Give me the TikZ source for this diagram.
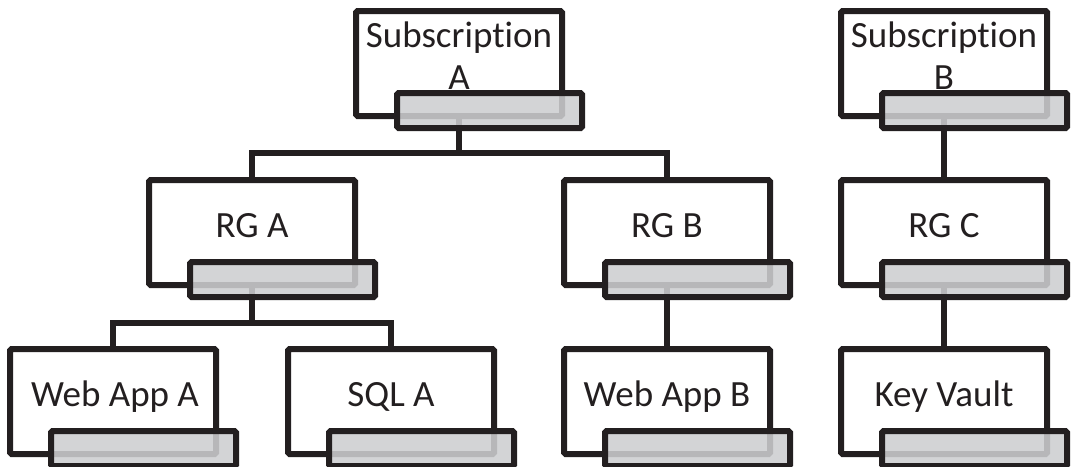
\documentclass[tikz,border=0pt]{standalone}
\usepackage{fontspec}
\setmainfont{Carlito}[Ligatures=NoCommon]
\usetikzlibrary{calc}
\definecolor{ink}{RGB}{35,31,32}
\definecolor{bargrey}{RGB}{205,206,208}
\tikzset{
  box/.style={draw=ink, line width=6pt, fill=white, rectangle, rounded corners=1.5pt,
    minimum width=206pt, minimum height=105pt, inner sep=0pt, outer sep=0pt},
  bar/.style={draw=ink, line width=6pt, fill=bargrey, fill opacity=0.87, rectangle, rounded corners=1.5pt,
    minimum width=185pt, minimum height=35pt, inner sep=0pt, outer sep=0pt},
  lbl/.style={text=ink, anchor=base, inner sep=0pt, font=\fontsize{37}{42}\selectfont},
  link/.style={draw=ink, line width=6pt},
}
\begin{document}
\begin{tikzpicture}[x=1pt, y=-1pt]
\useasboundingbox (0,0) rectangle (1071,466);
\clip (0,0) rectangle (1071,466);
% boxes
\node[box] (suba) at (459,63.5) {};
\node[box] (subb) at (944,63.5) {};
\node[box] (rga) at (252,232.5) {};
\node[box] (rgb) at (667,232.5) {};
\node[box] (rgc) at (944,232.5) {};
\node[box] (weba) at (113,401.5) {};
\node[box] (sqla) at (391,401.5) {};
\node[box] (webb) at (667,401.5) {};
\node[box] (kv) at (944,401.5) {};
% labels
\node[lbl] (subat) at (459,47) {\begin{tabular}[t]{@{}c@{}}Subscription\\A\end{tabular}};
\node[lbl] (subbt) at (944,47) {\begin{tabular}[t]{@{}c@{}}Subscription\\B\end{tabular}};
\node[lbl] (rgat) at (252,237) {RG A};
\node[lbl] (rgbt) at (667,237) {RG B};
\node[lbl] (rgct) at (944,237) {RG C};
\node[lbl] (webat) at (115,406) {Web App A};
\node[lbl] (sqlat) at (391,406) {SQL A};
\node[lbl] (webbt) at (667,406) {Web App B};
\node[lbl] (kvt) at (944,406) {Key Vault};
% connectors
\draw[link] (suba.south) -- ++(0,37) coordinate (ha) -| (rga.north);
\draw[link] (ha) -| (rgb.north);
\draw[link] (rga.south) -- ++(0,38) coordinate (hb) -| (weba.north);
\draw[link] (hb) -| (sqla.north);
\draw[link] (rgb.south) -- (webb.north);
\draw[link] (subb.south) -- (rgc.north);
\draw[link] (rgc.south) -- (kv.north);
% bars
\foreach \b in {suba,subb,rga,rgb,rgc,weba,sqla,webb,kv}{
  \node[bar] (\b bar) at ($(\b.south west)+(133.5,-5.5)$) {};
}
\end{tikzpicture}
\end{document}
